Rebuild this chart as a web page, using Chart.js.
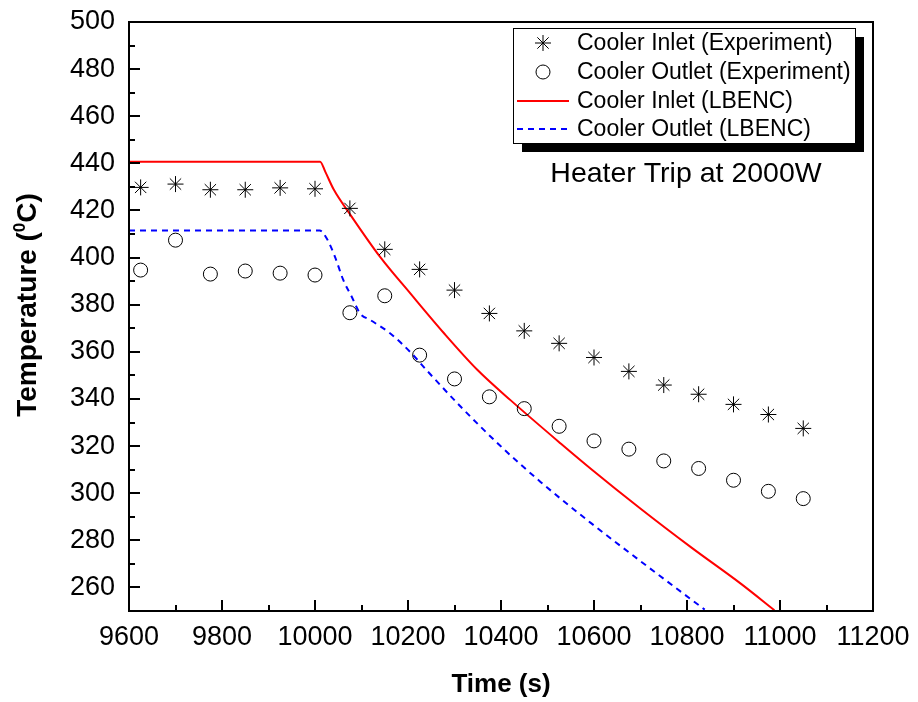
<!DOCTYPE html>
<html>
<head>
<meta charset="utf-8">
<script src="https://cdn.jsdelivr.net/npm/chart.js@4.4.0/dist/chart.umd.min.js"></script>
<style>
  html, body { margin: 0; padding: 0; background: #fff; }
  #wrap { width: 918px; height: 702px; }
</style>
</head>
<body>
<div id="wrap"><canvas id="chart" width="918" height="702"></canvas></div>
<script>
// ---------- DATOS ----------
// mediciones (cada 75 s)
const tiempoExp = [9625, 9700, 9775, 9850, 9925, 10000, 10075, 10150, 10225, 10300,
                   10375, 10450, 10525, 10600, 10675, 10750, 10825, 10900, 10975, 11050];
const entradaExp = [429.8, 431.2, 428.8, 428.8, 429.6, 429.2, 420.9, 403.5, 395.0, 386.2,
                    376.3, 368.9, 363.6, 357.6, 351.7, 345.9, 342.0, 337.7, 333.4, 327.5];
const salidaExp = [394.7, 407.4, 393.0, 394.3, 393.4, 392.6, 376.6, 383.8, 358.6, 348.5,
                   340.9, 335.9, 328.4, 322.2, 318.7, 313.7, 310.5, 305.5, 300.8, 297.7];

// simulación LBENC
const tiempoEntradaSim = [9600, 10011, 10022, 10040, 10075, 10140, 10205, 10277, 10349,
                          10421, 10529, 10593, 10701, 10809, 10917, 10988];
const entradaSim = [440.7, 440.7, 436.5, 429.0, 418.5, 400.3, 384.8, 368.0, 352.4,
                    339.4, 321.0, 310.4, 293.3, 277.0, 261.4, 250.3];
const tiempoSalidaSim = [9600, 10010, 10025, 10043, 10061, 10079, 10097, 10119, 10162,
                         10205, 10241, 10313, 10399, 10485, 10593, 10701, 10838];
const salidaSim = [411.5, 411.5, 408.2, 400.3, 390.4, 383.4, 376.3, 373.5, 367.8,
                   359.9, 352.0, 336.8, 320.0, 304.8, 287.4, 271.0, 250.6];

// ejes
const ticksX = [9600, 9800, 10000, 10200, 10400, 10600, 10800, 11000, 11200];
const ticksY = [260, 280, 300, 320, 340, 360, 380, 400, 420, 440, 460, 480, 500];

const etiquetas = ['Cooler Inlet (Experiment)', 'Cooler Outlet (Experiment)',
                   'Cooler Inlet (LBENC)', 'Cooler Outlet (LBENC)'];
const nota = 'Heater Trip at 2000W';

const FUENTE = '"Liberation Sans", Arial, sans-serif';

function pares(xs, ys) {
    return xs.map((x, i) => ({ x: x, y: ys[i] }));
}

// ---------- MARCO, TICKS, TÍTULOS Y LEYENDA ----------
const decoraciones = {
    id: 'decoraciones',
    afterDraw(chart) {
        const ctx = chart.ctx;
        const a = chart.chartArea;
        const sx = chart.scales.x, sy = chart.scales.y;
        ctx.save();

        // ticks hacia adentro
        ctx.strokeStyle = '#000';
        ctx.lineWidth = 2;
        ctx.beginPath();
        for (let v = 9700; v < 11200; v += 100) {
            const px = Math.round(sx.getPixelForValue(v));
            const len = (v % 200 === 0) ? 11 : 6;
            ctx.moveTo(px, a.bottom); ctx.lineTo(px, a.bottom - len);
        }
        for (let v = 260; v < 500; v += 10) {
            const py = Math.round(sy.getPixelForValue(v));
            const len = (v % 20 === 0) ? 11 : 6;
            ctx.moveTo(a.left, py); ctx.lineTo(a.left + len, py);
        }
        ctx.stroke();

        // marco
        ctx.lineWidth = 2;
        ctx.strokeRect(a.left, a.top, a.right - a.left, a.bottom - a.top);

        // leyenda con sombra
        const lx = 513, ly = 28, lw = 342, lh = 115;
        ctx.fillStyle = '#000';
        ctx.fillRect(lx + 9, ly + 9, lw, lh);
        ctx.fillStyle = '#fff';
        ctx.fillRect(lx, ly, lw, lh);
        ctx.lineWidth = 1;
        ctx.strokeStyle = '#000';
        ctx.strokeRect(lx + 0.5, ly + 0.5, lw, lh);

        const filas = [43, 72, 101, 129];
        const ds = chart.data.datasets;
        // asterisco
        ctx.beginPath();
        const r = 8, cx = 543;
        for (let k = 0; k < 4; k++) {
            const ang = k * Math.PI / 4;
            ctx.moveTo(cx - r * Math.cos(ang), filas[0] - r * Math.sin(ang));
            ctx.lineTo(cx + r * Math.cos(ang), filas[0] + r * Math.sin(ang));
        }
        ctx.strokeStyle = ds[0].borderColor;
        ctx.stroke();
        // círculo
        ctx.beginPath();
        ctx.arc(cx, filas[1], 7, 0, Math.PI * 2);
        ctx.strokeStyle = ds[1].borderColor;
        ctx.stroke();
        // líneas
        ctx.lineWidth = 2;
        ctx.beginPath();
        ctx.moveTo(517, filas[2]); ctx.lineTo(569, filas[2]);
        ctx.strokeStyle = ds[2].borderColor;
        ctx.stroke();
        ctx.beginPath();
        ctx.setLineDash(ds[3].borderDash);
        ctx.moveTo(517, filas[3]); ctx.lineTo(569, filas[3]);
        ctx.strokeStyle = ds[3].borderColor;
        ctx.stroke();
        ctx.setLineDash([]);

        ctx.fillStyle = '#000';
        ctx.font = '23px ' + FUENTE;
        ctx.textAlign = 'left';
        ctx.textBaseline = 'middle';
        etiquetas.forEach((t, i) => ctx.fillText(t, 577, filas[i] + 1));

        // nota
        ctx.font = '28.5px ' + FUENTE;
        ctx.textAlign = 'center';
        ctx.fillText(nota, 686, 174);

        // título eje X
        ctx.font = 'bold 26px ' + FUENTE;
        ctx.textBaseline = 'alphabetic';
        ctx.fillText('Time (s)', 501, 692);

        // título eje Y con superíndice
        ctx.translate(36, 305);
        ctx.rotate(-Math.PI / 2);
        const fGrande = 'bold 28px ' + FUENTE;
        const fChica = 'bold 17px ' + FUENTE;
        ctx.font = fGrande;
        const p1 = 'Temperature (', p3 = 'C)';
        const w1 = ctx.measureText(p1).width;
        const w3 = ctx.measureText(p3).width;
        ctx.font = fChica;
        const w2 = ctx.measureText('0').width;
        let x0 = -(w1 + w2 + w3) / 2;
        ctx.textAlign = 'left';
        ctx.font = fGrande;
        ctx.fillText(p1, x0, 0);
        ctx.font = fChica;
        ctx.fillText('0', x0 + w1, -11);
        ctx.font = fGrande;
        ctx.fillText(p3, x0 + w1 + w2, 0);

        ctx.restore();
    }
};

// ---------- GRÁFICA ----------
function initChart() {
    const ctx = document.getElementById('chart');
    new Chart(ctx, {
        type: 'scatter',
        data: {
            datasets: [{
                label: etiquetas[0],
                data: pares(tiempoExp, entradaExp),
                pointStyle: 'star',
                pointRadius: 8,
                borderColor: '#000',
                backgroundColor: '#000',
                borderWidth: 1,
                showLine: false
            }, {
                label: etiquetas[1],
                data: pares(tiempoExp, salidaExp),
                pointStyle: 'circle',
                pointRadius: 7,
                borderColor: '#000',
                backgroundColor: 'rgba(0,0,0,0)',
                borderWidth: 1,
                showLine: false
            }, {
                label: etiquetas[2],
                data: pares(tiempoEntradaSim, entradaSim),
                showLine: true,
                pointRadius: 0,
                borderColor: '#ff0000',
                borderWidth: 2,
                cubicInterpolationMode: 'monotone'
            }, {
                label: etiquetas[3],
                data: pares(tiempoSalidaSim, salidaSim),
                showLine: true,
                pointRadius: 0,
                borderColor: '#0000ff',
                borderWidth: 2,
                borderDash: [6, 5],
                cubicInterpolationMode: 'monotone'
            }]
        },
        options: {
            responsive: false,
            animation: false,
            layout: { padding: { top: 22, right: 45, left: 0, bottom: 0 } },
            scales: {
                x: {
                    type: 'linear',
                    min: 9600,
                    max: 11200,
                    afterBuildTicks: s => { s.ticks = ticksX.map(v => ({ value: v })); },
                    afterFit: s => { s.height = 91; s.paddingLeft = 0; s.paddingRight = 0; },
                    grid: { display: false, drawTicks: false },
                    border: { display: false },
                    ticks: {
                        padding: 10,
                        color: '#000',
                        font: { family: FUENTE, size: 27 },
                        maxRotation: 0,
                        callback: v => String(v)
                    }
                },
                y: {
                    type: 'linear',
                    min: 250,
                    max: 500,
                    afterBuildTicks: s => { s.ticks = ticksY.map(v => ({ value: v })); },
                    afterFit: s => { s.width = 129; s.paddingTop = 0; s.paddingBottom = 0; },
                    grid: { display: false, drawTicks: false },
                    border: { display: false },
                    ticks: {
                        padding: 14,
                        color: '#000',
                        font: { family: FUENTE, size: 27 },
                        callback: v => String(v)
                    }
                }
            },
            plugins: {
                legend: { display: false },
                tooltip: { enabled: false }
            }
        },
        plugins: [decoraciones]
    });
}

initChart();
</script>
</body>
</html>
